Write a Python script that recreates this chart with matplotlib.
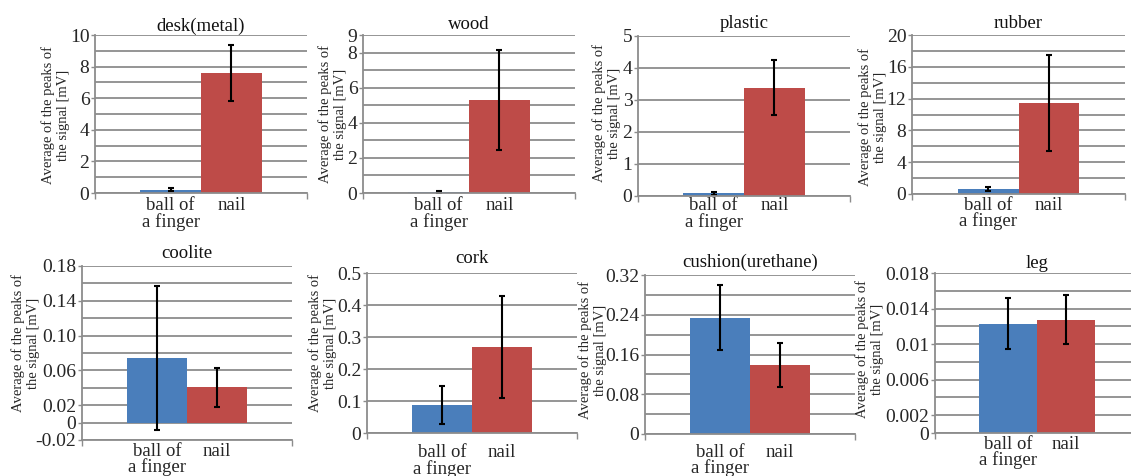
import numpy as np
import matplotlib
matplotlib.use("Agg")
import matplotlib.pyplot as plt

plt.rcParams['font.family'] = ['Liberation Serif', 'DejaVu Serif']

# materials tapped, one panel each
materials = ["desk(metal)", "wood", "plastic", "rubber",
             "coolite", "cork", "cushion(urethane)", "leg"]
categories = ["ball of\na finger", "nail"]

# average of the peaks of the signal [mV] and error bars
finger_mean = [0.20, 0.05, 0.08, 0.65, 0.074, 0.087, 0.234, 0.0123]
finger_err = [0.10, 0.04, 0.04, 0.27, 0.083, 0.060, 0.065, 0.0029]
nail_mean = [7.6, 5.3, 3.39, 11.46, 0.0405, 0.269, 0.139, 0.01276]
nail_err = [1.77, 2.83, 0.85, 6.0, 0.0225, 0.16, 0.045, 0.0028]

# y axes as drawn in the original (Excel) figure
y_limits = [(0, 10), (0, 9), (0, 5), (0, 20),
            (-0.02, 0.18), (0, 0.5), (0, 0.32), (0, 0.018)]
grid_steps = [1, 1, 1, 2, 0.02, 0.1, 0.04, 0.002]
tick_values = [[0, 2, 4, 6, 8, 10],
               [0, 2, 4, 6, 8, 9],
               [0, 1, 2, 3, 4, 5],
               [0, 4, 8, 12, 16, 20],
               [-0.02, 0, 0.02, 0.06, 0.10, 0.14, 0.18],
               [0, 0.1, 0.2, 0.3, 0.4, 0.5],
               [0, 0.08, 0.16, 0.24, 0.32],
               [0, 0.002, 0.006, 0.01, 0.014, 0.018]]
tick_labels = [["0", "2", "4", "6", "8", "10"],
               ["0", "2", "4", "6", "8", "9"],
               ["0", "1", "2", "3", "4", "5"],
               ["0", "4", "8", "12", "16", "20"],
               ["-0.02", "0", "0.02", "0.06", "0.10", "0.14", "0.18"],
               ["0", "0.1", "0.2", "0.3", "0.4", "0.5"],
               ["0", "0.08", "0.16", "0.24", "0.32"],
               ["0", "0.002", "0.006", "0.01", "0.014", "0.018"]]

# layout in pixels (left, top, right, bottom)
W, H = 1131, 476
boxes = [(95, 35, 307, 193), (363, 35, 575, 193), (638, 36, 850, 196), (912, 35, 1125, 194),
         (82, 266, 292, 440), (367, 273, 577, 433), (645, 275, 855, 434), (935, 273, 1139, 433)]
ylabel_xy = [(56, 115), (333, 114), (607, 113), (873, 117),
             (26, 343), (323, 343), (593, 350), (870, 349)]
title_pads = [3, 4, 6, 5, 6, 7, 6, 3.5]
xlabel_pads = [3, 3, 1, 2, 2, 8, 7, 2]

blue = "#4a7ebb"
red = "#be4b48"
grid_c = "#8c8c8c"
text_c = "#262626"

fig = plt.figure(figsize=(W / 100, H / 100), dpi=100)

for i, name in enumerate(materials):
    l, t, r, b = boxes[i]
    ax = fig.add_axes([l / W, 1 - b / H, (r - l) / W, (b - t) / H])
    ax.bar([0, 1], [finger_mean[i], nail_mean[i]], width=1.0, color=[blue, red],
           yerr=[finger_err[i], nail_err[i]],
           error_kw=dict(ecolor="black", elinewidth=1.5, capsize=2.5, capthick=1.5),
           zorder=2)
    lo, hi = y_limits[i]
    ax.set_ylim(lo, hi)
    ax.set_xlim(-1.25, 2.25)

    ax.set_yticks(np.arange(lo, hi + grid_steps[i] / 2, grid_steps[i]), minor=True)
    ax.set_yticks(tick_values[i])
    ax.set_yticklabels(tick_labels[i], fontsize=14, color=text_c)
    ax.yaxis.grid(True, which="both", color=grid_c, lw=1.3, zorder=0)
    ax.set_axisbelow(True)
    ax.tick_params(axis="y", which="major", length=3, width=1, color=grid_c, pad=1)
    ax.tick_params(axis="y", which="minor", length=0)

    ax.set_xticks([0, 1])
    ax.set_xticklabels(categories, fontsize=13.5, color=text_c, linespacing=0.9)
    ax.set_xticks([-1.25, 2.25], minor=True)
    ax.tick_params(axis="x", which="major", length=0, pad=xlabel_pads[i])
    ax.tick_params(axis="x", which="minor", length=4, width=1, color=grid_c)

    for s in ["top", "right"]:
        ax.spines[s].set_visible(False)
    for s in ["left", "bottom"]:
        ax.spines[s].set_color(grid_c)
        ax.spines[s].set_linewidth(1.3)

    ax.set_title(name, fontsize=13.5, color="#111111", pad=title_pads[i])
    fx, fy = ylabel_xy[i]
    fig.text(fx / W, 1 - fy / H, "Average of the peaks of\nthe signal [mV]",
             rotation=90, ha="center", va="center", multialignment="center",
             fontsize=10.5, color=text_c, linespacing=1.2)

fig.savefig("out.png", dpi=100)
